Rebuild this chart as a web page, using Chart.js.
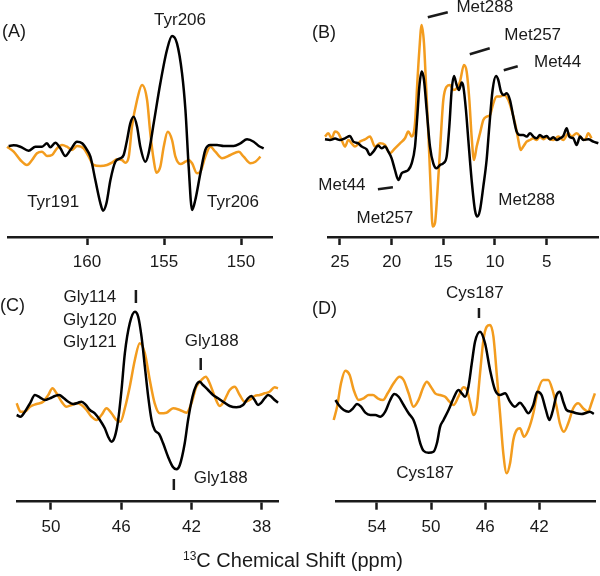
<!DOCTYPE html>
<html>
<head>
<meta charset="utf-8">
<script src="https://cdn.jsdelivr.net/npm/chart.js@4"></script>
<style>
  body { margin: 0; background: #fff; }
  #wrap { position: relative; width: 600px; height: 576px; font-family: "Liberation Sans", Arial, sans-serif; color: #1a1a1a; }
  canvas { position: absolute; }
  .tag { position: absolute; font-size: 18px; line-height: 18px; }
  #xtitle { position: absolute; left: 0; width: 586px; top: 550px; text-align: center; font-size: 20px; line-height: 20px; }
  #xtitle sup { font-size: 12px; vertical-align: 7px; line-height: 0; }
</style>
</head>
<body>
<div id="wrap">
  <canvas id="chartA" width="300" height="280" style="left:0;top:0"></canvas>
  <canvas id="chartB" width="300" height="280" style="left:300px;top:0"></canvas>
  <canvas id="chartC" width="300" height="275" style="left:0;top:270px"></canvas>
  <canvas id="chartD" width="300" height="275" style="left:300px;top:270px"></canvas>
  <div class="tag" style="left:2px;top:22px">(A)</div>
  <div class="tag" style="left:312px;top:23px">(B)</div>
  <div class="tag" style="left:0;top:296px">(C)</div>
  <div class="tag" style="left:312px;top:299px">(D)</div>
  <div id="xtitle"><sup>13</sup>C Chemical Shift (ppm)</div>
</div>
<script>
// Panel A - Tyr
const ticksA = [160, 155, 150];
const shiftA_black = [165.09,164.76,164.33,163.79,163.35,162.92,162.60,162.38,162.06,161.73,161.41,161.08,160.65,160.32,160.00,159.78,159.46,159.13,158.96,158.74,158.48,158.16,157.84,157.62,157.40,157.19,156.97,156.75,156.54,156.21,156.00,155.67,155.24,154.81,154.48,154.16,153.83,153.61,153.40,153.18,152.97,152.64,152.32,151.99,151.56,151.13,150.48,150.04,149.61,149.18,148.85,148.53];
const intA_black = [0,0.7,-0.7,-4.7,-0.7,-0.7,2.7,-1.3,3.3,-2.3,-10,-4,4.3,2.7,-4,-10.7,-34,-57.3,-64.7,-57.3,-34,-15.7,-12.3,-9,6,22.7,29.3,19.3,-0.7,-15.7,-7.3,22.7,62.7,96,110,102.7,72.7,36,-20.7,-64,-54,-27.3,-4,1,1,0,0,2.7,6.7,4.3,0,-2.3];
const shiftA_orange = [165.19,164.76,164.33,163.90,163.57,163.25,162.92,162.60,162.27,161.95,161.62,161.30,160.97,160.65,160.22,159.89,159.57,159.13,158.70,158.38,158.05,157.73,157.51,157.29,157.08,156.75,156.43,156.10,155.89,155.67,155.50,155.24,155.02,154.76,154.48,154.26,153.94,153.61,153.40,153.18,152.86,152.64,152.32,151.99,151.67,151.23,150.69,150.15,149.83,149.39,149.07,148.74];
const intA_orange = [-0.7,-5.7,-14,-19,-14,-7.3,-5.7,-10,-9,-2.3,1,-0.7,-4,0,-2.3,-10.7,-19,-20,-19,-16.7,-13.3,-14,-16.7,-10.7,19.3,46,61,46,12.7,-14,-26.7,-20.7,-0.7,14.3,6,-10.7,-18,-15.7,-14,-17.3,-27.3,-25.7,-10.7,-0.7,-5.7,-12.3,-9,-5.7,-10.7,-17.3,-15.7,-10.7];

// Panel B - Met
const ticksB = [25, 20, 15, 10, 5];
const shiftB_black = [26.45,25.97,25.48,25.00,24.52,24.03,23.71,23.23,22.90,22.42,22.10,21.77,21.29,20.97,20.65,20.32,20.00,19.68,19.35,19.03,18.71,18.39,18.06,17.74,17.52,17.32,17.10,16.87,16.61,16.29,15.97,15.65,15.32,15.00,14.68,14.42,14.19,13.97,13.71,13.48,13.23,13.06,12.81,12.58,12.26,11.94,11.71,11.45,11.13,10.81,10.55,10.23,9.90,9.68,9.42,9.13,8.87,8.55,8.23,7.90,7.58,7.26,6.94,6.61,6.29,5.97,5.65,5.32,5.00,4.68,4.35,4.03,3.71,3.39,3.06,2.81,2.42,2.10,1.77,1.45,0.97,0.48,0.00];
const intB_black = [-1,-1.7,-0.3,-1.7,0,2.3,-3.3,-5,-8.3,-11,-16.7,-13.3,-7.3,-10,-8.3,-13.3,-20,-31.7,-41.7,-35,-33.3,-31.7,-25,-8.3,21.7,51.7,66.7,58.3,28.3,-8.3,-25,-30,-26.7,-25,-18.3,11.7,48.3,62.3,53.3,48.3,55.7,51.7,28.3,-1.7,-41.7,-71.7,-78.3,-71.7,-48.3,-21.7,11.7,48.3,62.3,58.3,46.7,43.3,45,38.3,21.7,6.7,3.3,3.3,1.7,5,1.7,0,3.3,1,2.3,-1,1,-1.7,0,2.3,10,1.7,0,-6.7,1.7,-1.7,-1,-3.3,-5];
const shiftB_orange = [26.45,26.13,25.81,25.48,25.16,24.84,24.52,24.19,23.87,23.55,23.06,22.58,22.10,21.61,21.13,20.65,20.16,19.68,19.19,18.71,18.39,18.06,17.74,17.52,17.32,17.10,16.87,16.68,16.45,16.23,16.03,15.81,15.58,15.32,15.00,14.68,14.35,14.03,13.71,13.39,13.00,12.74,12.48,12.26,12.03,11.77,11.45,11.13,10.81,10.48,10.16,9.84,9.52,9.13,8.71,8.39,8.06,7.74,7.52,7.26,6.94,6.61,6.29,5.97,5.65,5.32,5.00,4.68,4.35,3.87,3.39,2.90,2.58,2.10,1.61,1.29,0.97,0.65];
const intB_orange = [1.7,5,0,6.7,5,-1.7,-8.3,-1.7,-5,-8.3,-3.3,-1,1.7,-8.3,-5,-6.7,-15,-10,-5,0,6.7,1.7,15,55,88.3,113.3,95,55,5,-48.3,-88.3,-85,-55,-11.7,38.3,51.7,53.3,48.3,50,56.7,73.3,66.7,38.3,1.7,-21.7,-8.3,5,18.3,21.7,23.3,35,41.7,41.7,43.3,38.3,28.3,15,-1.7,-11.7,-8.3,-3.3,-1.7,0,-1.7,1.7,-1,1,-1,-1.7,1.7,-1.7,5,1.7,5,0,-1.7,5,0];

// Panel C - Gly
const ticksC = [50, 46, 42, 38];
const shiftC_black = [51.95,51.73,51.48,51.19,50.91,50.63,50.34,50.06,49.77,49.53,49.26,49.01,48.73,48.45,48.26,48.01,47.78,47.50,47.21,46.93,46.74,46.55,46.36,46.17,45.98,45.79,45.51,45.22,45.03,44.84,44.65,44.46,44.27,44.09,43.84,43.61,43.33,43.04,42.85,42.66,42.38,42.19,41.94,41.72,41.53,41.34,41.05,40.77,40.48,40.20,39.82,39.44,39.06,38.78,38.59,38.40,38.21,38.02,37.83,37.64,37.45,37.26,37.07];
const intC_black = [-5,-6.7,-1.7,6.7,15,12.7,10,11.7,14,15,11.7,8.3,6,7.3,8.3,5,0,-3.3,-10,-18.3,-26.7,-31.7,-26.7,-10,20,56.7,86.7,98.3,93.3,73.3,43.3,13.3,-10,-20,-24,-33.3,-46.7,-57.3,-59.3,-55,-33.3,-10,13.3,25,28.3,25,20,15,11.7,8.3,4,2.7,5,11.7,14,10,5,7.3,11.7,15,13.3,10,7.3];
const shiftC_orange = [51.95,51.73,51.48,51.19,50.82,50.44,50.15,49.91,49.68,49.39,49.11,48.82,48.54,48.26,47.97,47.69,47.40,47.12,46.83,46.55,46.27,46.04,45.79,45.51,45.22,44.94,44.65,44.37,44.09,43.80,43.42,43.04,42.66,42.28,42.00,41.72,41.43,41.18,40.96,40.67,40.39,40.16,39.82,39.54,39.25,38.97,38.68,38.40,38.11,37.83,37.55,37.26,37.07];
const intC_orange = [6.7,-1.7,-1.7,3.3,6,8.3,15,21.7,16.7,8.3,3.3,5,6.7,5,0,-6.7,-10,-5,1.7,-3.3,-10,-11.7,1.7,23.3,50,66.7,56.7,30,6.7,-3.3,-2.7,1.7,0,-2.7,6.7,23.3,30,33.3,26.7,13.3,4,8.3,20,23.3,15,8.3,10,14,15,16.7,18.3,22.7,21.7];

// Panel D - Cys
const ticksD = [54, 50, 46, 42];
const shiftD_black = [57.07,56.83,56.46,56.09,55.77,55.48,55.18,54.86,54.49,54.12,53.75,53.39,53.02,52.72,52.40,52.03,51.66,51.30,51.05,50.80,50.56,50.19,49.82,49.57,49.33,49.08,48.71,48.34,47.98,47.73,47.48,47.24,46.99,46.75,46.38,46.01,45.64,45.27,44.90,44.53,44.16,43.80,43.43,43.13,42.81,42.44,42.15,41.83,41.51,41.26,41.02,40.72,40.48,40.23,39.98,39.61,39.25,38.88,38.51,38.26,37.97];
const intD_black = [10,5,0,-1.7,1.7,6,3.3,-2.7,-5,-5,-6.7,-1.7,10,16,13.3,5,-3.3,-10,-20,-33.3,-40.7,-42.7,-41.7,-33.3,-16.7,-10,0,11.7,20,16.7,13.3,23.3,46.7,68.3,78.3,66.7,40,20,15,16.7,8.3,3.3,7.3,2.7,-3.3,5,18.3,15,0,-10,-1.7,15,18.3,8.3,0,-1.7,-3.3,-4,-2.7,-1.7,-4];
const shiftD_orange = [57.20,56.95,56.66,56.34,56.02,55.72,55.35,54.98,54.61,54.30,53.95,53.56,53.21,52.77,52.33,52.03,51.66,51.30,50.93,50.56,50.31,50.02,49.70,49.33,48.96,48.64,48.34,47.98,47.61,47.36,47.12,46.87,46.62,46.38,46.13,45.89,45.64,45.39,45.15,44.90,44.66,44.41,44.16,43.92,43.67,43.43,43.13,42.81,42.44,42.15,41.71,41.34,41.02,40.72,40.48,40.18,39.86,39.49,39.12,38.76,38.39,38.14,37.89];
const intD_orange = [-10,3.3,26.7,39.3,35,20,10,11.7,15,15,11.7,10,16.7,26.7,33.3,30,16.7,3.3,10,23.3,28.3,23.3,16.7,15,13.3,8.3,5,13.3,22.7,20,8.3,-5,3.3,36.7,70,83.3,85,73.3,36.7,-3.3,-43.3,-63.3,-53.3,-30,-20,-18.3,-26.7,-20,-3.3,16.7,30,30,20,3.3,-13.3,-21.7,-13.3,1.7,6.7,1.7,-1.7,6.7,16.7];

// annotation labels (ppm, intensity)
const labelsA = [
  { text: "Tyr206", x: 153.96, y: 126 },
  { text: "Tyr191", x: 162.2, y: -56 },
  { text: "Tyr206", x: 150.52, y: -56 }
];
const labelsB = [
  { text: "Met288", x: 10.99, y: 131 },
  { text: "Met257", x: 6.35, y: 103 },
  { text: "Met44", x: 3.94, y: 76 },
  { text: "Met44", x: 24.81, y: -47 },
  { text: "Met257", x: 20.65, y: -80 },
  { text: "Met288", x: 6.93, y: -62 }
];
const marksB = [
  [16.50, 121, 14.57, 126], [12.44, 84, 10.51, 90], [9.15, 68, 7.80, 72], [21.33, -51, 19.88, -49]
];
const labelsC = [
  { text: "Gly114", x: 47.78, y: 113 },
  { text: "Gly120", x: 47.78, y: 90 },
  { text: "Gly121", x: 47.78, y: 68 },
  { text: "Gly188", x: 40.84, y: 69 },
  { text: "Gly188", x: 40.33, y: -68 }
];
const marksC = [
  [45.16, 120, 45.16, 107], [41.47, 52, 41.47, 40], [43.00, -69, 43.00, -80]
];
const labelsD = [
  { text: "Cys187", x: 46.76, y: 117 },
  { text: "Cys187", x: 50.45, y: -63 }
];
const marksD = [
  [46.46, 102, 46.46, 92]
];

const FONT = '"Liberation Sans", Arial, sans-serif';
const INK = '#1a1a1a';
const ORANGE = '#f39c1e';

const annoPlugin = {
  id: 'anno',
  afterDatasetsDraw(chart, args, opts) {
    const ctx = chart.ctx, x = chart.scales.x, y = chart.scales.y;
    ctx.save();
    ctx.fillStyle = INK;
    ctx.font = '17px ' + FONT;
    ctx.textAlign = 'center';
    ctx.textBaseline = 'middle';
    (opts.texts || []).forEach(t => {
      ctx.fillText(t.text, x.getPixelForValue(t.x), y.getPixelForValue(t.y));
    });
    ctx.strokeStyle = INK;
    ctx.lineWidth = 2.5;
    (opts.marks || []).forEach(m => {
      ctx.beginPath();
      ctx.moveTo(x.getPixelForValue(m[0]), y.getPixelForValue(m[1]));
      ctx.lineTo(x.getPixelForValue(m[2]), y.getPixelForValue(m[3]));
      ctx.stroke();
    });
    ctx.restore();
  }
};

function pts(xs, ys) {
  return xs.map((v, i) => ({ x: v, y: ys[i] }));
}

function makePanel(id, p) {
  new Chart(document.getElementById(id), {
    type: 'line',
    data: {
      datasets: [
        { data: pts(p.bx, p.by), borderColor: '#000', borderWidth: 2.5 },
        { data: pts(p.ox, p.oy), borderColor: ORANGE, borderWidth: 2.5 }
      ]
    },
    options: {
      responsive: false,
      animation: false,
      events: [],
      layout: { padding: p.pad },
      datasets: { line: { cubicInterpolationMode: 'monotone', pointRadius: 0, fill: false, clip: { left: 10, right: 10, top: 10, bottom: 0 } } },
      plugins: {
        legend: { display: false },
        tooltip: { enabled: false },
        anno: { texts: p.texts, marks: p.marks || [] }
      },
      scales: {
        x: {
          type: 'linear', reverse: true, min: p.xmin, max: p.xmax,
          afterBuildTicks: ax => { ax.ticks = p.ticks.map(v => ({ value: v })); },
          grid: { drawOnChartArea: false, drawTicks: true, tickLength: 8, tickWidth: 2.5, tickColor: INK },
          border: { display: true, color: INK, width: 2.5 },
          ticks: { autoSkip: false, maxRotation: 0, padding: 7, color: INK, font: { size: 17, family: FONT } }
        },
        y: { display: false, min: p.ymin, max: p.ymax }
      }
    },
    plugins: [annoPlugin]
  });
}

makePanel('chartA', { bx: shiftA_black, by: intA_black, ox: shiftA_orange, oy: intA_orange, ticks: ticksA,
  xmin: 147.99, xmax: 165.13, ymin: -91, ymax: 146, pad: { left: 8, right: 28, top: 0, bottom: 0.6 }, texts: labelsA });
makePanel('chartB', { bx: shiftB_black, by: intB_black, ox: shiftB_orange, oy: intB_orange, ticks: ticksB,
  xmin: 0.03, xmax: 26.16, ymin: -98.7, ymax: 138.3, pad: { left: 28, right: 2, top: 0, bottom: 0.6 }, texts: labelsB, marks: marksB });
makePanel('chartC', { bx: shiftC_black, by: intC_black, ox: shiftC_orange, oy: intC_orange, ticks: ticksC,
  xmin: 37.07, xmax: 51.93, ymin: -91.7, ymax: 140, pad: { left: 17, right: 22, top: 0, bottom: 0.9 }, texts: labelsC, marks: marksC });
makePanel('chartD', { bx: shiftD_black, by: intD_black, ox: shiftD_orange, oy: intD_orange, ticks: ticksD,
  xmin: 37.88, xmax: 57.03, ymin: -91.7, ymax: 140, pad: { left: 36, right: 5, top: 0, bottom: 0.9 }, texts: labelsD, marks: marksD });
</script>
</body>
</html>
